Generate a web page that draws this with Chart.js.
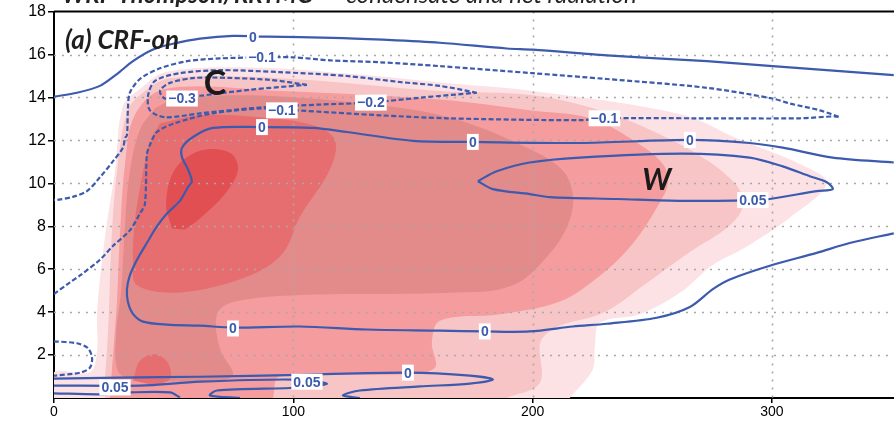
<!DOCTYPE html>
<html>
<head>
<meta charset="utf-8">
<script src="https://cdn.jsdelivr.net/npm/chart.js@4.4.0/dist/chart.umd.min.js"></script>
<style>
  html, body { margin: 0; padding: 0; background: #fff; }
  #wrap { width: 894px; height: 422px; }
</style>
</head>
<body>
<div id="wrap"><canvas id="crf"></canvas></div>
<script>
// axis ticks
const xTicks = [0, 100, 200, 300];
const yTicks = [2, 4, 6, 8, 10, 12, 14, 16, 18];
const xGrid = [100, 200, 300];
const yGrid = [2, 4, 6, 8, 10, 12, 14, 16];

// shaded condensate levels, outermost (lightest) to innermost, [x, height]
const fillL1 = [[0,0],[0,1.2],[15,1.2],[18,2.2],[18,4.0],[21.3,7.5],[25.5,10.6],[28.8,13.6],[35.9,14.4],[47.2,15.2],[81.9,15.4],[123.6,15.1],[161.2,14.7],[200.1,14.3],[262.7,13.2],[285.3,12.1],[311.6,10.9],[322.9,10.0],[307.4,8.4],[288.6,7.0],[275.3,6.2],[261.5,4.9],[244.8,3.9],[228.1,3.5],[226,2.4],[225,1.3],[215.5,0]];
const fillL2 = [[21.3,0],[21.3,0.8],[22.6,3.1],[24.2,7.7],[26.7,10.9],[30.9,13.4],[38,14.3],[48.5,14.9],[94.4,14.9],[161.2,14.3],[200.1,14.1],[228.1,13.4],[249,12.5],[269.8,11.3],[284.5,10.0],[288,9.0],[282,8.0],[265.7,6.8],[247,5.3],[230,4.0],[212,3.4],[205.9,3.0],[203,2.5],[203,0.7],[189.2,0]];
const fillL3 = [[23.4,0],[24.2,1.3],[26.3,4.5],[27.6,7.7],[29.7,10.9],[33.8,13.2],[46.4,14.4],[94.4,14.3],[161.2,13.9],[198.8,13.4],[225.1,13.0],[243.5,11.9],[254.4,10.9],[256.5,10.0],[253.1,9.1],[241.9,7.2],[228.1,5.7],[211.4,4.5],[186.3,3.9],[161.2,3.6],[157.9,2.6],[159.1,1.4],[144.5,1.1],[94.4,1.0],[91.5,0]];
const fillL4 = [[50.5,14.0],[80.6,14.1],[122.4,13.8],[164.2,13.1],[198.8,11.6],[212.6,10.6],[216.8,9.5],[215.5,8.3],[208.4,6.9],[191.7,5.25],[165.4,4.9],[102.8,4.8],[74.8,4.47],[68.1,3.9],[69.3,2.3],[74.8,1.1],[67.3,0.8],[31.7,0.9],[26.5,1.3],[26,3.1],[28,4.9],[29.5,7.7],[31.5,10.4],[35.9,12.5],[42.2,13.5]];
const fillL5 = [[44.3,12.8],[61,13.17],[86,13.08],[108.2,12.71],[117.4,12.02],[115.3,10.65],[102.8,8.45],[95.7,6.76],[81.9,5.71],[53.9,4.93],[34.7,5.25],[33,6.44],[33.8,8.27],[37.2,10.56],[40.1,12.02]];
const fillL5b = [[33,0.81],[35.9,1.73],[42.2,2.04],[47.6,1.64],[48.5,0.9],[42.2,0.58]];
const fillL6 = [[49.3,7.9],[46.8,9.05],[50.5,10.65],[61,11.52],[73.5,11.43],[76.9,10.65],[71.4,9.5],[61,8.36],[54.7,7.85]];

// net radiation contours
const c0Top = [[0,14.04],[9.6,14.22],[19.2,14.54],[26.3,15.09],[33,15.69],[41.4,16.23],[49.7,16.5],[61,16.74],[74.8,16.87],[89,16.83],[116.5,16.78],[137.4,16.69],[161.2,16.55],[189.2,16.28],[200.1,16.23],[231,15.96],[272.8,15.69],[300.3,15.46],[350.9,15.04]];
const cM01 = [[0,4.84],[6.7,5.39],[10.9,5.71],[19.2,6.44],[24.6,7.08],[31.7,7.81],[35.9,8.59],[38,9.05],[38.8,11.34],[40.1,11.79],[43,12.39],[50.5,12.8],[66.4,13.26],[87.3,13.49],[101.5,13.4],[136.2,13.17],[164.2,13.03],[219.7,12.94],[230,13.03],[269.8,13.03],[311.6,13.03],[326.2,13.12],[328.3,13.08],[320,13.4],[307.4,13.72],[300.3,13.95],[272.8,14.45],[231,14.86],[200.1,15.13],[161.2,15.46],[136.2,15.64],[115.3,15.73],[99.8,15.87],[89,15.87],[69.3,15.82],[55.6,15.69],[44.3,15.36],[35.9,14.86],[31.7,14.22],[30.9,13.49],[30.5,12.25],[29.7,12.11],[28.8,11.66],[24.6,11.02],[19.2,10.28],[13.8,9.64],[7.9,9.37],[1.3,9.23],[0,9.23]];
const cM02 = [[176.7,14.22],[161.2,14.54],[144.5,14.72],[122.4,15.0],[94.4,15.18],[69.3,15.27],[52.6,15.13],[42.2,14.77],[39.3,14.08],[40.1,13.4],[46.4,13.08],[61,13.26],[86,13.53],[111.1,13.67],[132,13.76],[152.9,13.99],[176.7,14.22]];
const cM03 = [[105.7,14.59],[90.2,14.82],[73.5,14.91],[58.9,14.91],[48.5,14.68],[44.3,14.31],[46.4,13.95],[61,14.08],[81.9,14.36],[105.7,14.59]];
const c0Inner = [[350.9,10.97],[325.4,11.2],[304.5,11.66],[290.7,11.88],[265.7,12.02],[219.7,11.88],[175,11.93],[150,11.98],[122.4,12.39],[108.2,12.58],[86.9,12.62],[66.4,12.58],[58.1,12.16],[53.5,11.66],[53.5,11.2],[55.6,10.74],[57.6,10.1],[56,9.83],[52.6,9.18],[47.2,8.59],[43,7.99],[38.8,7.22],[34.7,6.44],[31.7,5.71],[30.5,5.07],[30.9,4.47],[33,3.92],[37.2,3.56],[47.2,3.42],[61,3.37],[74.8,3.28],[102.8,3.33],[130.7,3.19],[161.2,3.14],[180,3.1],[198.8,3.1],[216.8,3.33],[231,3.46],[251.9,3.74],[265.7,4.24],[275.3,5.07],[282.4,5.52],[299.1,6.16],[318.7,6.76],[332.5,7.22],[350.9,7.67]];
const c005W = [[177.1,10.1],[185,10.56],[198.8,10.97],[219.7,11.2],[262.7,11.38],[290.7,11.2],[304.5,10.79],[315.8,10.33],[322.9,10.05],[325.4,9.73],[318.7,9.64],[299.1,9.27],[292,9.22],[262.7,9.18],[235.2,9.27],[207.2,9.36],[198.8,9.5],[183.4,9.73],[177.1,10.1]];
const c0Bottom = [[0,0.9],[27.6,0.95],[61,0.99],[102.8,1.08],[147.9,1.18],[173.8,1.04],[183.4,0.86],[173.8,0.67],[152.9,0.54],[127.8,0.35],[120.7,0.12],[127.8,0]];
const c005Bottom = [[0,0.58],[35.9,0.58],[61,0.76],[99.8,0.86],[114,0.67],[102.8,0.49],[68.1,0.35],[65.2,0.12],[77.7,0]];
const c005Bottom2 = [[0,0.22],[19.2,0.17],[31.7,0.26],[48.5,0.26],[52.6,0.03]];
const cNegLow = [[0,2.64],[9.6,2.55],[14.2,2.32],[15.9,1.86],[15,1.41],[10.9,1.18],[0,1.04]];

// contour labels [x, height, text]
const contourLabels = [
  [83.1,16.83,'0'], [86.9,15.87,'\u22120.1'], [53.5,13.95,'\u22120.3'], [132.4,13.76,'\u22120.2'],
  [95.2,13.4,'\u22120.1'], [86.9,12.62,'0'], [175,11.93,'0'], [230,13.03,'\u22120.1'],
  [265.7,12.02,'0'], [292,9.22,'0.05'], [74.8,3.24,'0'], [180,3.1,'0'],
  [147.9,1.18,'0'], [105.7,0.76,'0.05'], [25.5,0.49,'0.05']
];
const markC = [67.3, 14.54];
const markW = [251.9, 10.15];

const BLUE = '#3c5aae';
const pts = a => a.map(p => ({ x: p[0], y: p[1] }));

function fillSet(data, color, order) {
  return { data: pts(data), showLine: true, fill: 'shape', backgroundColor: color,
    borderColor: 'rgba(0,0,0,0)', borderWidth: 0, pointRadius: 0, tension: 0.35, order: order };
}
function lineSet(data, dashed) {
  return { data: pts(data), showLine: true, fill: false, borderColor: BLUE, borderWidth: 2.2,
    borderDash: dashed ? [5, 2.5] : [], pointRadius: 0, tension: 0.3, order: 1, isContour: true };
}

let gridDone = false;
const decor = {
  id: 'decor',
  beforeDatasetsDraw() { gridDone = false; },
  beforeDatasetDraw(chart, args) {
    const ds = chart.data.datasets[args.index];
    if (!ds.isContour || gridDone) return;
    gridDone = true;
    const { ctx, chartArea: a, scales: { x, y } } = chart;
    ctx.save();
    ctx.strokeStyle = '#a8a8a8';
    ctx.lineWidth = 1.6;
    ctx.setLineDash([2, 6]);
    yGrid.forEach(v => {
      const py = Math.round(y.getPixelForValue(v)) + 0.5;
      ctx.beginPath(); ctx.moveTo(a.left, py); ctx.lineTo(a.right, py); ctx.stroke();
    });
    xGrid.forEach(v => {
      const px = Math.round(x.getPixelForValue(v)) + 0.5;
      ctx.beginPath(); ctx.moveTo(px, a.top); ctx.lineTo(px, a.bottom); ctx.stroke();
    });
    ctx.restore();
  },
  afterDatasetsDraw(chart) {
    const { ctx, chartArea: a, scales: { x, y } } = chart;
    ctx.save();
    ctx.font = 'bold 14px "Liberation Sans", Arial, sans-serif';
    ctx.textAlign = 'center';
    ctx.textBaseline = 'middle';
    contourLabels.forEach(([vx, vy, t]) => {
      const px = x.getPixelForValue(vx), py = y.getPixelForValue(vy);
      const w = ctx.measureText(t).width;
      ctx.fillStyle = '#fff';
      ctx.fillRect(px - w / 2 - 2, py - 8, w + 4, 16);
      ctx.fillStyle = BLUE;
      ctx.fillText(t, px, py + 1);
    });
    ctx.fillStyle = '#1a1a1a';
    ctx.font = 'bold 34px Lato, sans-serif';
    ctx.fillText('C', x.getPixelForValue(markC[0]), y.getPixelForValue(markC[1]) - 2);
    ctx.font = 'italic bold 30px Lato, sans-serif';
    ctx.fillText('W', x.getPixelForValue(markW[0]), y.getPixelForValue(markW[1]));
    ctx.textAlign = 'left';
    ctx.font = 'italic bold 26px Lato, sans-serif';
    ctx.fillStyle = '#1e1e1e';
    ctx.fillText('(a) CRF-on', a.left + 11, a.top + 29);
    // frame top line
    ctx.strokeStyle = '#000';
    ctx.lineWidth = 2;
    ctx.beginPath(); ctx.moveTo(a.left, a.top); ctx.lineTo(a.right, a.top); ctx.stroke();
    ctx.restore();
  },
  afterDraw(chart) {
    const { ctx } = chart;
    ctx.save();
    ctx.fillStyle = '#222';
    ctx.textBaseline = 'alphabetic';
    ctx.font = 'italic bold 24px Lato, sans-serif';
    ctx.fillText('WRF Thompson/RRTMG', 62, 3);
    ctx.font = 'italic 24px Lato, sans-serif';
    ctx.fillText('condensate and net radiation', 346, 3);
    ctx.restore();
  }
};

new Chart(document.getElementById('crf'), {
  type: 'scatter',
  data: {
    datasets: [
      fillSet(fillL1, '#fce2e4', 20),
      fillSet(fillL2, '#f8c5c7', 19),
      fillSet(fillL3, '#f59c9f', 18),
      fillSet(fillL4, '#e38a8b', 17),
      fillSet(fillL5, '#e76e70', 16),
      fillSet(fillL5b, '#e76e70', 15),
      fillSet(fillL6, '#e24f52', 14),
      lineSet(c0Top, false),
      lineSet(cM01, true),
      lineSet(cM02, true),
      lineSet(cM03, true),
      lineSet(c0Inner, false),
      lineSet(c005W, false),
      lineSet(c0Bottom, false),
      lineSet(c005Bottom, false),
      lineSet(c005Bottom2, false),
      lineSet(cNegLow, true)
    ]
  },
  options: {
    responsive: true,
    maintainAspectRatio: false,
    animation: false,
    layout: { padding: { top: 6, right: 0, left: 0, bottom: 0 } },
    plugins: { legend: { display: false }, tooltip: { enabled: false } },
    scales: {
      x: {
        type: 'linear', min: 0, max: 351,
        afterBuildTicks: s => { s.ticks = xTicks.map(v => ({ value: v })); },
        afterFit: s => { s.height = 24; },
        grid: { drawOnChartArea: false, color: '#000', tickLength: 5, lineWidth: 1.5 },
        border: { color: '#000', width: 2 },
        ticks: { color: '#000', padding: 1, maxRotation: 0, font: { family: '"Liberation Sans", Arial, sans-serif', size: 14 } }
      },
      y: {
        type: 'linear', min: 0, max: 18,
        afterBuildTicks: s => { s.ticks = yTicks.map(v => ({ value: v })); },
        afterFit: s => { s.width = 54; },
        grid: { drawOnChartArea: false, color: '#000', tickLength: 6, lineWidth: 1.5 },
        border: { color: '#000', width: 2 },
        ticks: { color: '#000', padding: 2, font: { family: '"Liberation Sans", Arial, sans-serif', size: 16 } }
      }
    }
  },
  plugins: [decor]
});
</script>
</body>
</html>
